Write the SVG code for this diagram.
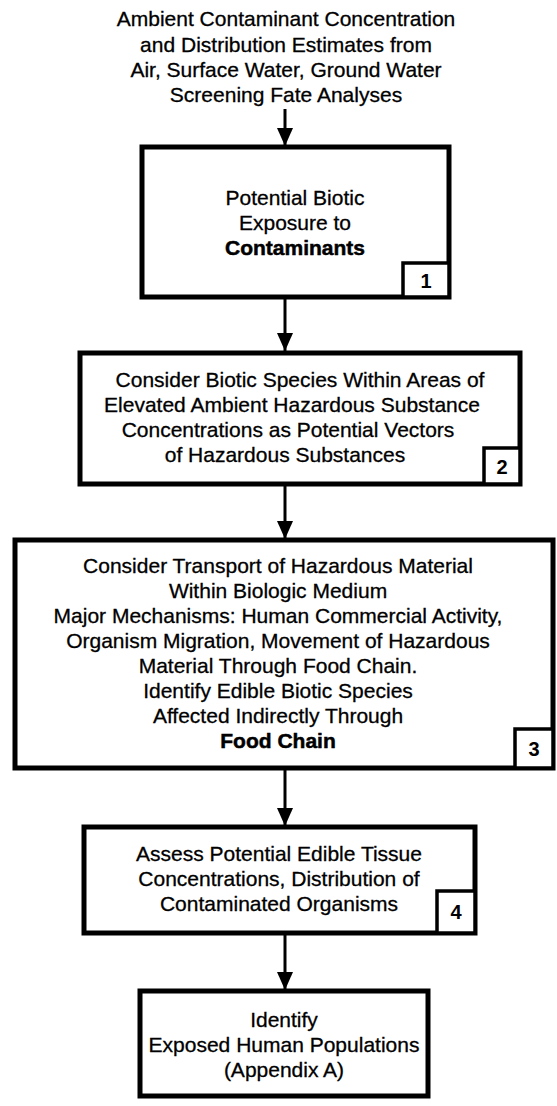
<svg xmlns="http://www.w3.org/2000/svg" width="557" height="1106" viewBox="0 0 557 1106">
  <defs>
    <marker id="head" markerUnits="userSpaceOnUse" markerWidth="18" markerHeight="16" refX="18" refY="8" orient="auto">
      <path d="M0,0 L18,8 L0,16 Z" fill="#000"/>
    </marker>
    <style>
      .t { font-family: "Liberation Sans", Arial, sans-serif; font-size: 21px; fill: #000; stroke: #000; stroke-width: 0.3; text-anchor: middle; }
      .b { font-weight: bold; stroke-width: 0.5; }
      .box { fill: #fff; stroke: #000; stroke-width: 5; }
      .num { fill: #fff; stroke: #000; stroke-width: 3.5; }
      .n { font-family: "Liberation Sans", Arial, sans-serif; font-size: 20px; font-weight: bold; fill: #000; text-anchor: middle; }
      .edge { stroke: #000; stroke-width: 3; fill: none; marker-end: url(#head); }
    </style>
  </defs>
  <rect width="557" height="1106" fill="#fff"/>

  <!-- source description above the first step -->
  <g id="source">
    <text class="t" x="286" y="26">Ambient Contaminant Concentration</text>
    <text class="t" x="286" y="52">and Distribution Estimates from</text>
    <text class="t" x="286" y="77">Air, Surface Water, Ground Water</text>
    <text class="t" x="286" y="102">Screening Fate Analyses</text>
  </g>

  <!-- connectors -->
  <g id="connectors">
    <line class="edge" x1="285" y1="109" x2="285" y2="146"/>
    <line class="edge" x1="285" y1="298" x2="285" y2="351"/>
    <line class="edge" x1="285" y1="485" x2="285" y2="539"/>
    <line class="edge" x1="285" y1="768" x2="285" y2="826"/>
    <line class="edge" x1="285" y1="933" x2="285" y2="990"/>
  </g>

  <g id="step1">
    <rect class="box" x="142" y="147" width="307" height="150"/>
    <text class="t" x="295" y="205">Potential Biotic</text>
    <text class="t" x="295" y="230">Exposure to</text>
    <text class="t b" x="295" y="255">Contaminants</text>
    <rect class="num" x="403" y="263" width="46" height="34"/>
    <text class="n" x="426" y="288">1</text>
  </g>

  <g id="step2">
    <rect class="box" x="80" y="353" width="440" height="131"/>
    <text class="t" x="300" y="387">Consider Biotic Species Within Areas of</text>
    <text class="t" x="292" y="412">Elevated Ambient Hazardous Substance</text>
    <text class="t" x="288" y="437">Concentrations as Potential Vectors</text>
    <text class="t" x="285" y="462">of Hazardous Substances</text>
    <rect class="num" x="484" y="448" width="36" height="36"/>
    <text class="n" x="502" y="474">2</text>
  </g>

  <g id="step3">
    <rect class="box" x="15" y="540" width="538" height="228"/>
    <text class="t" x="278" y="573">Consider Transport of Hazardous Material</text>
    <text class="t" x="278" y="598">Within Biologic Medium</text>
    <text class="t" x="278" y="623">Major Mechanisms: Human Commercial Activity,</text>
    <text class="t" x="278" y="648">Organism Migration, Movement of Hazardous</text>
    <text class="t" x="278" y="673">Material Through Food Chain.</text>
    <text class="t" x="278" y="698">Identify Edible Biotic Species</text>
    <text class="t" x="278" y="723">Affected Indirectly Through</text>
    <text class="t b" x="278" y="748">Food Chain</text>
    <rect class="num" x="515" y="729" width="38" height="39"/>
    <text class="n" x="534" y="756">3</text>
  </g>

  <g id="step4">
    <rect class="box" x="84" y="827" width="391" height="106"/>
    <text class="t" x="279" y="861">Assess Potential Edible Tissue</text>
    <text class="t" x="279" y="886">Concentrations, Distribution of</text>
    <text class="t" x="279" y="911">Contaminated Organisms</text>
    <rect class="num" x="437" y="891" width="38" height="42"/>
    <text class="n" x="456" y="919">4</text>
  </g>

  <g id="step5">
    <rect class="box" x="140" y="991" width="288" height="105"/>
    <text class="t" x="284" y="1027">Identify</text>
    <text class="t" x="284" y="1052">Exposed Human Populations</text>
    <text class="t" x="284" y="1077">(Appendix A)</text>
  </g>
</svg>
